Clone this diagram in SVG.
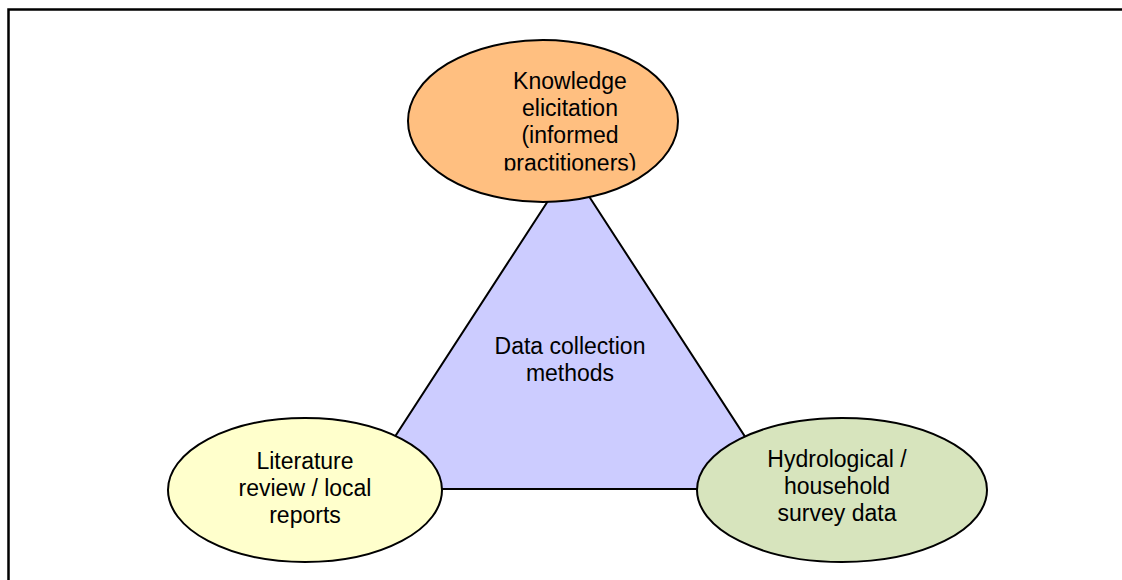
<svg xmlns="http://www.w3.org/2000/svg" width="1122" height="580" viewBox="0 0 1122 580">
<style>
.t{font-family:"Liberation Sans",Arial,sans-serif;font-size:23px;fill:#000;text-anchor:middle}
.s{stroke:#000;stroke-width:2}
</style>
<defs>
<clipPath id="topclip"><rect x="400" y="40" width="290" height="130.5"/></clipPath>
</defs>
<rect x="0" y="0" width="1122" height="580" fill="#fff"/>
<path d="M8.5 600 V9.5 H1130" fill="none" stroke="#000" stroke-width="2.5"/>
<g id="center">
<polygon class="s" points="570,167 361,489 779,489" fill="#CCCCFF"/>
<text class="t" x="570" y="354">Data collection</text>
<text class="t" x="570" y="381">methods</text>
</g>
<g id="connectors"></g>
<g id="knowledge">
<ellipse class="s" cx="543" cy="121" rx="135" ry="81" fill="#FFBF80"/>
<g clip-path="url(#topclip)">
<text class="t" x="570" y="89">Knowledge</text>
<text class="t" x="570" y="116">elicitation</text>
<text class="t" x="570" y="143">(informed</text>
<text class="t" x="570" y="171">practitioners)</text>
</g>
</g>
<g id="literature">
<ellipse class="s" cx="305" cy="490" rx="137" ry="72" fill="#FFFFCC"/>
<text class="t" x="305" y="469">Literature</text>
<text class="t" x="305" y="496">review / local</text>
<text class="t" x="305" y="523">reports</text>
</g>
<g id="hydrological">
<ellipse class="s" cx="842" cy="490" rx="145" ry="72" fill="#D7E4BD"/>
<text class="t" x="837" y="467">Hydrological /</text>
<text class="t" x="837" y="494">household</text>
<text class="t" x="837" y="521">survey data</text>
</g>
</svg>
